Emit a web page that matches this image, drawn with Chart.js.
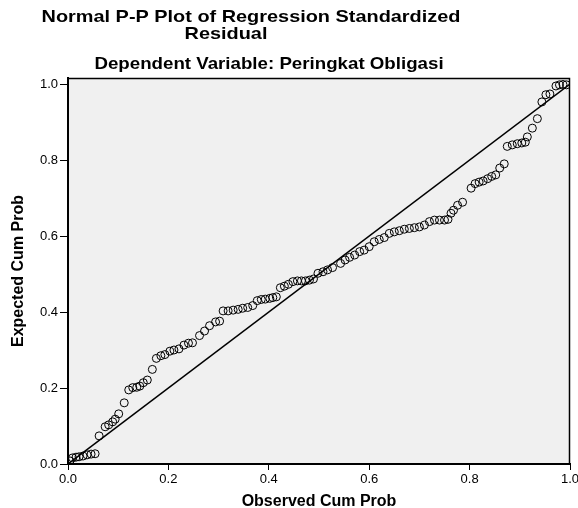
<!DOCTYPE html>
<html>
<head>
<meta charset="utf-8">
<script src="https://cdn.jsdelivr.net/npm/chart.js@4.4.1/dist/chart.umd.min.js"></script>
<style>
  html, body { margin: 0; padding: 0; background: #fff; }
</style>
</head>
<body>
<canvas id="mycanvas" width="578" height="508"></canvas>
<script>
// titles
var titleLine1 = "Normal P-P Plot of Regression Standardized";
var titleLine2 = "Residual";
var subTitle = "Dependent Variable: Peringkat Obligasi";
var xTitle = "Observed Cum Prob";
var yTitle = "Expected Cum Prob";

// tick labels
var xTicks = [0, 0.2, 0.4, 0.6, 0.8, 1.0];
var yTicks = [0, 0.2, 0.4, 0.6, 0.8, 1.0];

// points
var observed = [
  0.004, 0.009, 0.016, 0.022, 0.030, 0.038, 0.046, 0.054,
  0.062, 0.074, 0.081, 0.089, 0.094, 0.101, 0.112, 0.121,
  0.129, 0.137, 0.143, 0.150, 0.158, 0.168, 0.176, 0.185,
  0.193, 0.203, 0.211, 0.221, 0.231, 0.240, 0.248, 0.262,
  0.272, 0.282, 0.294, 0.302, 0.309, 0.319, 0.329, 0.339,
  0.348, 0.358, 0.368, 0.377, 0.385, 0.393, 0.402, 0.408,
  0.415, 0.423, 0.431, 0.439, 0.448, 0.457, 0.465, 0.473,
  0.481, 0.489, 0.498, 0.508, 0.517, 0.527, 0.543, 0.552,
  0.561, 0.571, 0.581, 0.590, 0.600, 0.610, 0.620, 0.630,
  0.640, 0.650, 0.660, 0.670, 0.680, 0.690, 0.700, 0.710,
  0.720, 0.730, 0.740, 0.750, 0.757, 0.763, 0.768, 0.776,
  0.786, 0.803, 0.811, 0.819, 0.827, 0.836, 0.844, 0.852,
  0.860, 0.869, 0.875, 0.885, 0.895, 0.904, 0.911, 0.915,
  0.925, 0.935, 0.944, 0.952, 0.960, 0.972, 0.979, 0.986,
  0.993
];
var expected = [
  0.008, 0.016, 0.018, 0.019, 0.021, 0.024, 0.026, 0.027,
  0.074, 0.098, 0.103, 0.111, 0.118, 0.132, 0.161, 0.195,
  0.201, 0.202, 0.205, 0.214, 0.221, 0.249, 0.278, 0.285,
  0.288, 0.297, 0.300, 0.303, 0.313, 0.318, 0.319, 0.338,
  0.350, 0.364, 0.374, 0.376, 0.403, 0.403, 0.405, 0.407,
  0.410, 0.412, 0.417, 0.430, 0.433, 0.434, 0.436, 0.438,
  0.440, 0.464, 0.468, 0.473, 0.480, 0.482, 0.482, 0.482,
  0.484, 0.487, 0.502, 0.506, 0.511, 0.517, 0.528, 0.537,
  0.544, 0.550, 0.559, 0.563, 0.572, 0.585, 0.591, 0.596,
  0.607, 0.611, 0.614, 0.618, 0.620, 0.622, 0.624, 0.629,
  0.638, 0.642, 0.642, 0.642, 0.644, 0.660, 0.668, 0.681,
  0.689, 0.726, 0.738, 0.742, 0.745, 0.751, 0.757, 0.761,
  0.779, 0.790, 0.836, 0.840, 0.843, 0.845, 0.847, 0.861,
  0.884, 0.909, 0.953, 0.972, 0.974, 0.995, 0.998, 0.999,
  0.998
];
var refLine = [0, 1];

var pts = [];
for (var i in observed) {
  pts.push({x: observed[i], y: expected[i]});
}

var fontFam = "Arial, 'Liberation Sans', sans-serif";

// grey plot area and thin top/right frame
var plotBack = {
  id: 'plotBack',
  beforeDraw: function(chart) {
    var a = chart.chartArea, c = chart.ctx;
    c.save();
    c.fillStyle = '#f0f0f0';
    c.fillRect(a.left, a.top, a.right - a.left, a.bottom - a.top);
    c.strokeStyle = '#000';
    c.lineWidth = 1.5;
    c.beginPath();
    c.moveTo(a.left, a.top + 0.5);
    c.lineTo(a.right - 0.5, a.top + 0.5);
    c.lineTo(a.right - 0.5, a.bottom);
    c.stroke();
    c.restore();
  }
};

// the stacked SPSS titles, a bit wide like the original
var titles = {
  id: 'titles',
  afterDraw: function(chart) {
    var c = chart.ctx;
    var put = function(txt, cx, y, size, stretch) {
      c.save();
      c.font = 'bold ' + size + 'px ' + fontFam;
      c.fillStyle = '#000';
      c.textAlign = 'center';
      c.textBaseline = 'alphabetic';
      c.translate(cx, y);
      c.scale(stretch, 1);
      c.fillText(txt, 0, 0);
      c.restore();
    };
    put(titleLine1, 251, 22, 17, 1.17);
    put(titleLine2, 226, 39, 17, 1.17);
    put(subTitle, 269, 69, 17, 1.1);
  }
};

var ctx = document.getElementById('mycanvas');
var ppChart = new Chart(ctx, {
  type: 'scatter',
  data: {
    datasets: [
      {
        type: 'line',
        data: [{x: refLine[0], y: refLine[0]}, {x: refLine[1], y: refLine[1]}],
        borderColor: '#000',
        borderWidth: 1.5,
        pointRadius: 0,
        fill: false
      },
      {
        data: pts,
        pointStyle: 'circle',
        pointRadius: 4,
        pointBorderWidth: 1,
        borderColor: '#000',
        backgroundColor: 'rgba(0,0,0,0)'
      }
    ]
  },
  plugins: [plotBack, titles],
  options: {
    responsive: false,
    animation: false,
    devicePixelRatio: 1,
    layout: { padding: { left: 0, right: 8, top: 78, bottom: 0 } },
    plugins: {
      legend: { display: false },
      tooltip: { enabled: false },
      title: { display: false }
    },
    scales: {
      x: {
        type: 'linear',
        min: 0,
        max: 1,
        afterBuildTicks: function(s) { s.ticks = xTicks.map(function(v) { return {value: v}; }); },
        afterFit: function(s) { s.height = 44; s.paddingLeft = 0; s.paddingRight = 0; },
        ticks: {
          color: '#000',
          padding: 2,
          maxRotation: 0,
          font: { family: fontFam, size: 13 },
          callback: function(v) { return Number(v).toFixed(1); }
        },
        grid: { drawOnChartArea: false, tickLength: 6, color: '#000', tickWidth: 1 },
        border: { display: true, color: '#000', width: 2 },
        title: {
          display: true,
          text: xTitle,
          color: '#000',
          font: { family: fontFam, size: 16, weight: 'bold' },
          padding: { top: 2, bottom: -3 }
        }
      },
      y: {
        type: 'linear',
        min: 0,
        max: 1.016,
        afterBuildTicks: function(s) { s.ticks = yTicks.map(function(v) { return {value: v}; }); },
        afterFit: function(s) { s.width = 68; s.paddingTop = 0; s.paddingBottom = 0; },
        ticks: {
          color: '#000',
          padding: 2,
          font: { family: fontFam, size: 13 },
          callback: function(v) { return Number(v).toFixed(1); }
        },
        grid: { drawOnChartArea: false, tickLength: 8, color: '#000', tickWidth: 1 },
        border: { display: true, color: '#000', width: 2 },
        title: {
          display: true,
          text: yTitle,
          color: '#000',
          font: { family: fontFam, size: 16, weight: 'bold' },
          padding: { top: 9, bottom: 0 }
        }
      }
    }
  }
});
</script>
</body>
</html>
